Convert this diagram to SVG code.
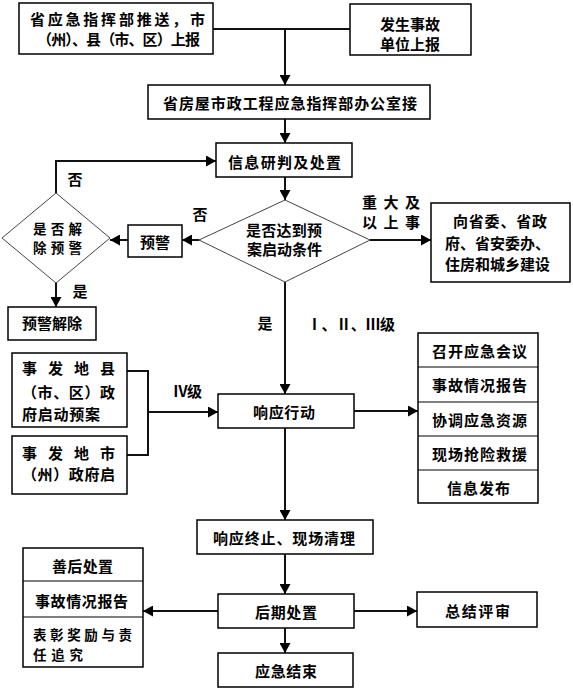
<svg xmlns="http://www.w3.org/2000/svg" width="573" height="690" viewBox="0 0 573 690">
<style>
text{font-family:"Noto Sans CJK SC","Noto Sans",sans-serif;font-size:15px;font-weight:bold;fill:#000;dominant-baseline:central}
.s{font-size:13.5px}
.b{fill:#fff;stroke:#000;stroke-width:1.5}
.d{fill:#fff;stroke:#444;stroke-width:1}
.c{fill:none;stroke:#111;stroke-width:2}
.m{text-anchor:middle}
</style>
<defs>
<marker id="a" markerUnits="userSpaceOnUse" markerWidth="11" markerHeight="11" refX="10" refY="5.5" orient="auto">
<path d="M0,0 L10,5.5 L0,11 z" fill="#000"/>
</marker>
</defs>
<rect width="573" height="690" fill="#fff"/>
<g id="connectors">
<path class="c" d="M213,29 H350"/>
<path class="c" d="M285,29 V85" marker-end="url(#a)"/>
<path class="c" d="M285,119 V143" marker-end="url(#a)"/>
<path class="c" d="M285,177 V200" marker-end="url(#a)"/>
<path class="c" d="M199,240 H182" marker-end="url(#a)"/>
<path class="c" d="M128,240 H110" marker-end="url(#a)"/>
<path class="c" d="M56,193 V161 H216" marker-end="url(#a)"/>
<path class="c" d="M56,283 V307" marker-end="url(#a)"/>
<path class="c" d="M370,240 H431" marker-end="url(#a)"/>
<path class="c" d="M285,282 V394" marker-end="url(#a)"/>
<path class="c" d="M127,371 H148 V455 H127"/>
<path class="c" d="M148,412 H218" marker-end="url(#a)"/>
<path class="c" d="M354,411 H418" marker-end="url(#a)"/>
<path class="c" d="M285,428 V520" marker-end="url(#a)"/>
<path class="c" d="M285,554 V594" marker-end="url(#a)"/>
<path class="c" d="M285,628 V653" marker-end="url(#a)"/>
<path class="c" d="M218,611 H143" marker-end="url(#a)"/>
<path class="c" d="M354,611 H417" marker-end="url(#a)"/>
<text x="75" y="178" class="m">否</text>
<text x="200" y="213" class="m">否</text>
<text x="80" y="290" class="m">是</text>
<text x="265" y="322" class="m">是</text>
<text x="362" y="201" textLength="58" lengthAdjust="spacing">重 大 及</text>
<text x="362" y="221" textLength="58" lengthAdjust="spacing">以 上 事</text>
<text x="307" y="323" textLength="88" lengthAdjust="spacing">Ⅰ、Ⅱ、Ⅲ级</text>
<text x="173" y="390" textLength="29" lengthAdjust="spacing">Ⅳ级</text>
</g>
<g id="n1">
<rect class="b" x="19" y="3" width="194" height="51"/>
<text x="30" y="18" textLength="175" lengthAdjust="spacing">省应急指挥部推送，市</text>
<text x="37" y="38" textLength="163" lengthAdjust="spacing">（州）、县（市、区）上报</text>
</g>
<g id="n2">
<rect class="b" x="350" y="4" width="121" height="51"/>
<text x="410" y="23" class="m">发生事故</text>
<text x="410" y="43" class="m">单位上报</text>
</g>
<g id="n3">
<rect class="b" x="148" y="85" width="282" height="34"/>
<text x="163" y="102" textLength="254" lengthAdjust="spacing">省房屋市政工程应急指挥部办公室接</text>
</g>
<g id="n4">
<rect class="b" x="216" y="143" width="136" height="34"/>
<text x="228" y="161" textLength="113" lengthAdjust="spacing">信息研判及处置</text>
</g>
<g id="n5">
<polygon class="d" points="285,200 370,240 285,282 199,240"/>
<text x="246" y="229" textLength="76" lengthAdjust="spacing">是否达到预</text>
<text x="247" y="248" textLength="75" lengthAdjust="spacing">案启动条件</text>
</g>
<g id="n6">
<rect class="b" x="128" y="225" width="54" height="32"/>
<text x="155" y="241" class="m">预警</text>
</g>
<g id="n7">
<polygon class="d" points="56,193 110,238 56,283 2,238"/>
<text class="s" x="33" y="228" textLength="49" lengthAdjust="spacing">是否解</text>
<text class="s" x="33" y="247" textLength="49" lengthAdjust="spacing">除预警</text>
</g>
<g id="n8">
<rect class="b" x="8" y="307" width="88" height="33"/>
<text x="22" y="322" textLength="60" lengthAdjust="spacing">预警解除</text>
</g>
<g id="n9">
<rect class="b" x="431" y="203" width="139" height="79"/>
<text x="453" y="220" textLength="94" lengthAdjust="spacing">向省委、省政</text>
<text x="445" y="242" textLength="105" lengthAdjust="spacing">府、省安委办、</text>
<text x="445" y="263" textLength="105" lengthAdjust="spacing">住房和城乡建设</text>
</g>
<g id="n10">
<rect class="b" x="12" y="353" width="115" height="74"/>
<text x="22" y="367" textLength="93" lengthAdjust="spacing">事发地县</text>
<text x="22" y="391" textLength="93" lengthAdjust="spacing">（市、区）政</text>
<text x="22" y="413" textLength="78" lengthAdjust="spacing">府启动预案</text>
</g>
<g id="n11">
<rect class="b" x="12" y="436" width="115" height="58"/>
<text x="22" y="452" textLength="93" lengthAdjust="spacing">事发地市</text>
<text x="22" y="473" textLength="93" lengthAdjust="spacing">（州）政府启</text>
</g>
<g id="n12">
<rect class="b" x="218" y="394" width="136" height="34"/>
<text x="253" y="411" textLength="62" lengthAdjust="spacing">响应行动</text>
</g>
<g id="n13">
<rect class="b" x="418" y="333" width="120" height="170"/>
<path d="M418,367 H538 M418,402 H538 M418,436 H538 M418,470 H538" stroke="#000" stroke-width="1.2"/>
<text x="432" y="350" textLength="95" lengthAdjust="spacing">召开应急会议</text>
<text x="432" y="384" textLength="95" lengthAdjust="spacing">事故情况报告</text>
<text x="432" y="419" textLength="95" lengthAdjust="spacing">协调应急资源</text>
<text x="432" y="453" textLength="95" lengthAdjust="spacing">现场抢险救援</text>
<text x="447" y="487" textLength="63" lengthAdjust="spacing">信息发布</text>
</g>
<g id="n14">
<rect class="b" x="197" y="520" width="176" height="34"/>
<text x="213" y="537" textLength="142" lengthAdjust="spacing">响应终止、现场清理</text>
</g>
<g id="n15">
<rect class="b" x="218" y="594" width="136" height="34"/>
<text x="255" y="611" textLength="62" lengthAdjust="spacing">后期处置</text>
</g>
<g id="n16">
<rect class="b" x="218" y="653" width="135" height="34"/>
<text x="255" y="670" textLength="62" lengthAdjust="spacing">应急结束</text>
</g>
<g id="n17">
<rect class="b" x="23" y="548" width="120" height="119"/>
<path d="M23,581 H143 M23,617 H143" stroke="#000" stroke-width="1.2"/>
<text x="52" y="565" textLength="61" lengthAdjust="spacing">善后处置</text>
<text x="35" y="600" textLength="93" lengthAdjust="spacing">事故情况报告</text>
<text class="s" x="33" y="634" textLength="99" lengthAdjust="spacing">表彰奖励与责</text>
<text class="s" x="33" y="654" textLength="50" lengthAdjust="spacing">任追究</text>
</g>
<g id="n18">
<rect class="b" x="417" y="592" width="120" height="35"/>
<text x="445" y="610" textLength="65" lengthAdjust="spacing">总结评审</text>
</g>
</svg>
